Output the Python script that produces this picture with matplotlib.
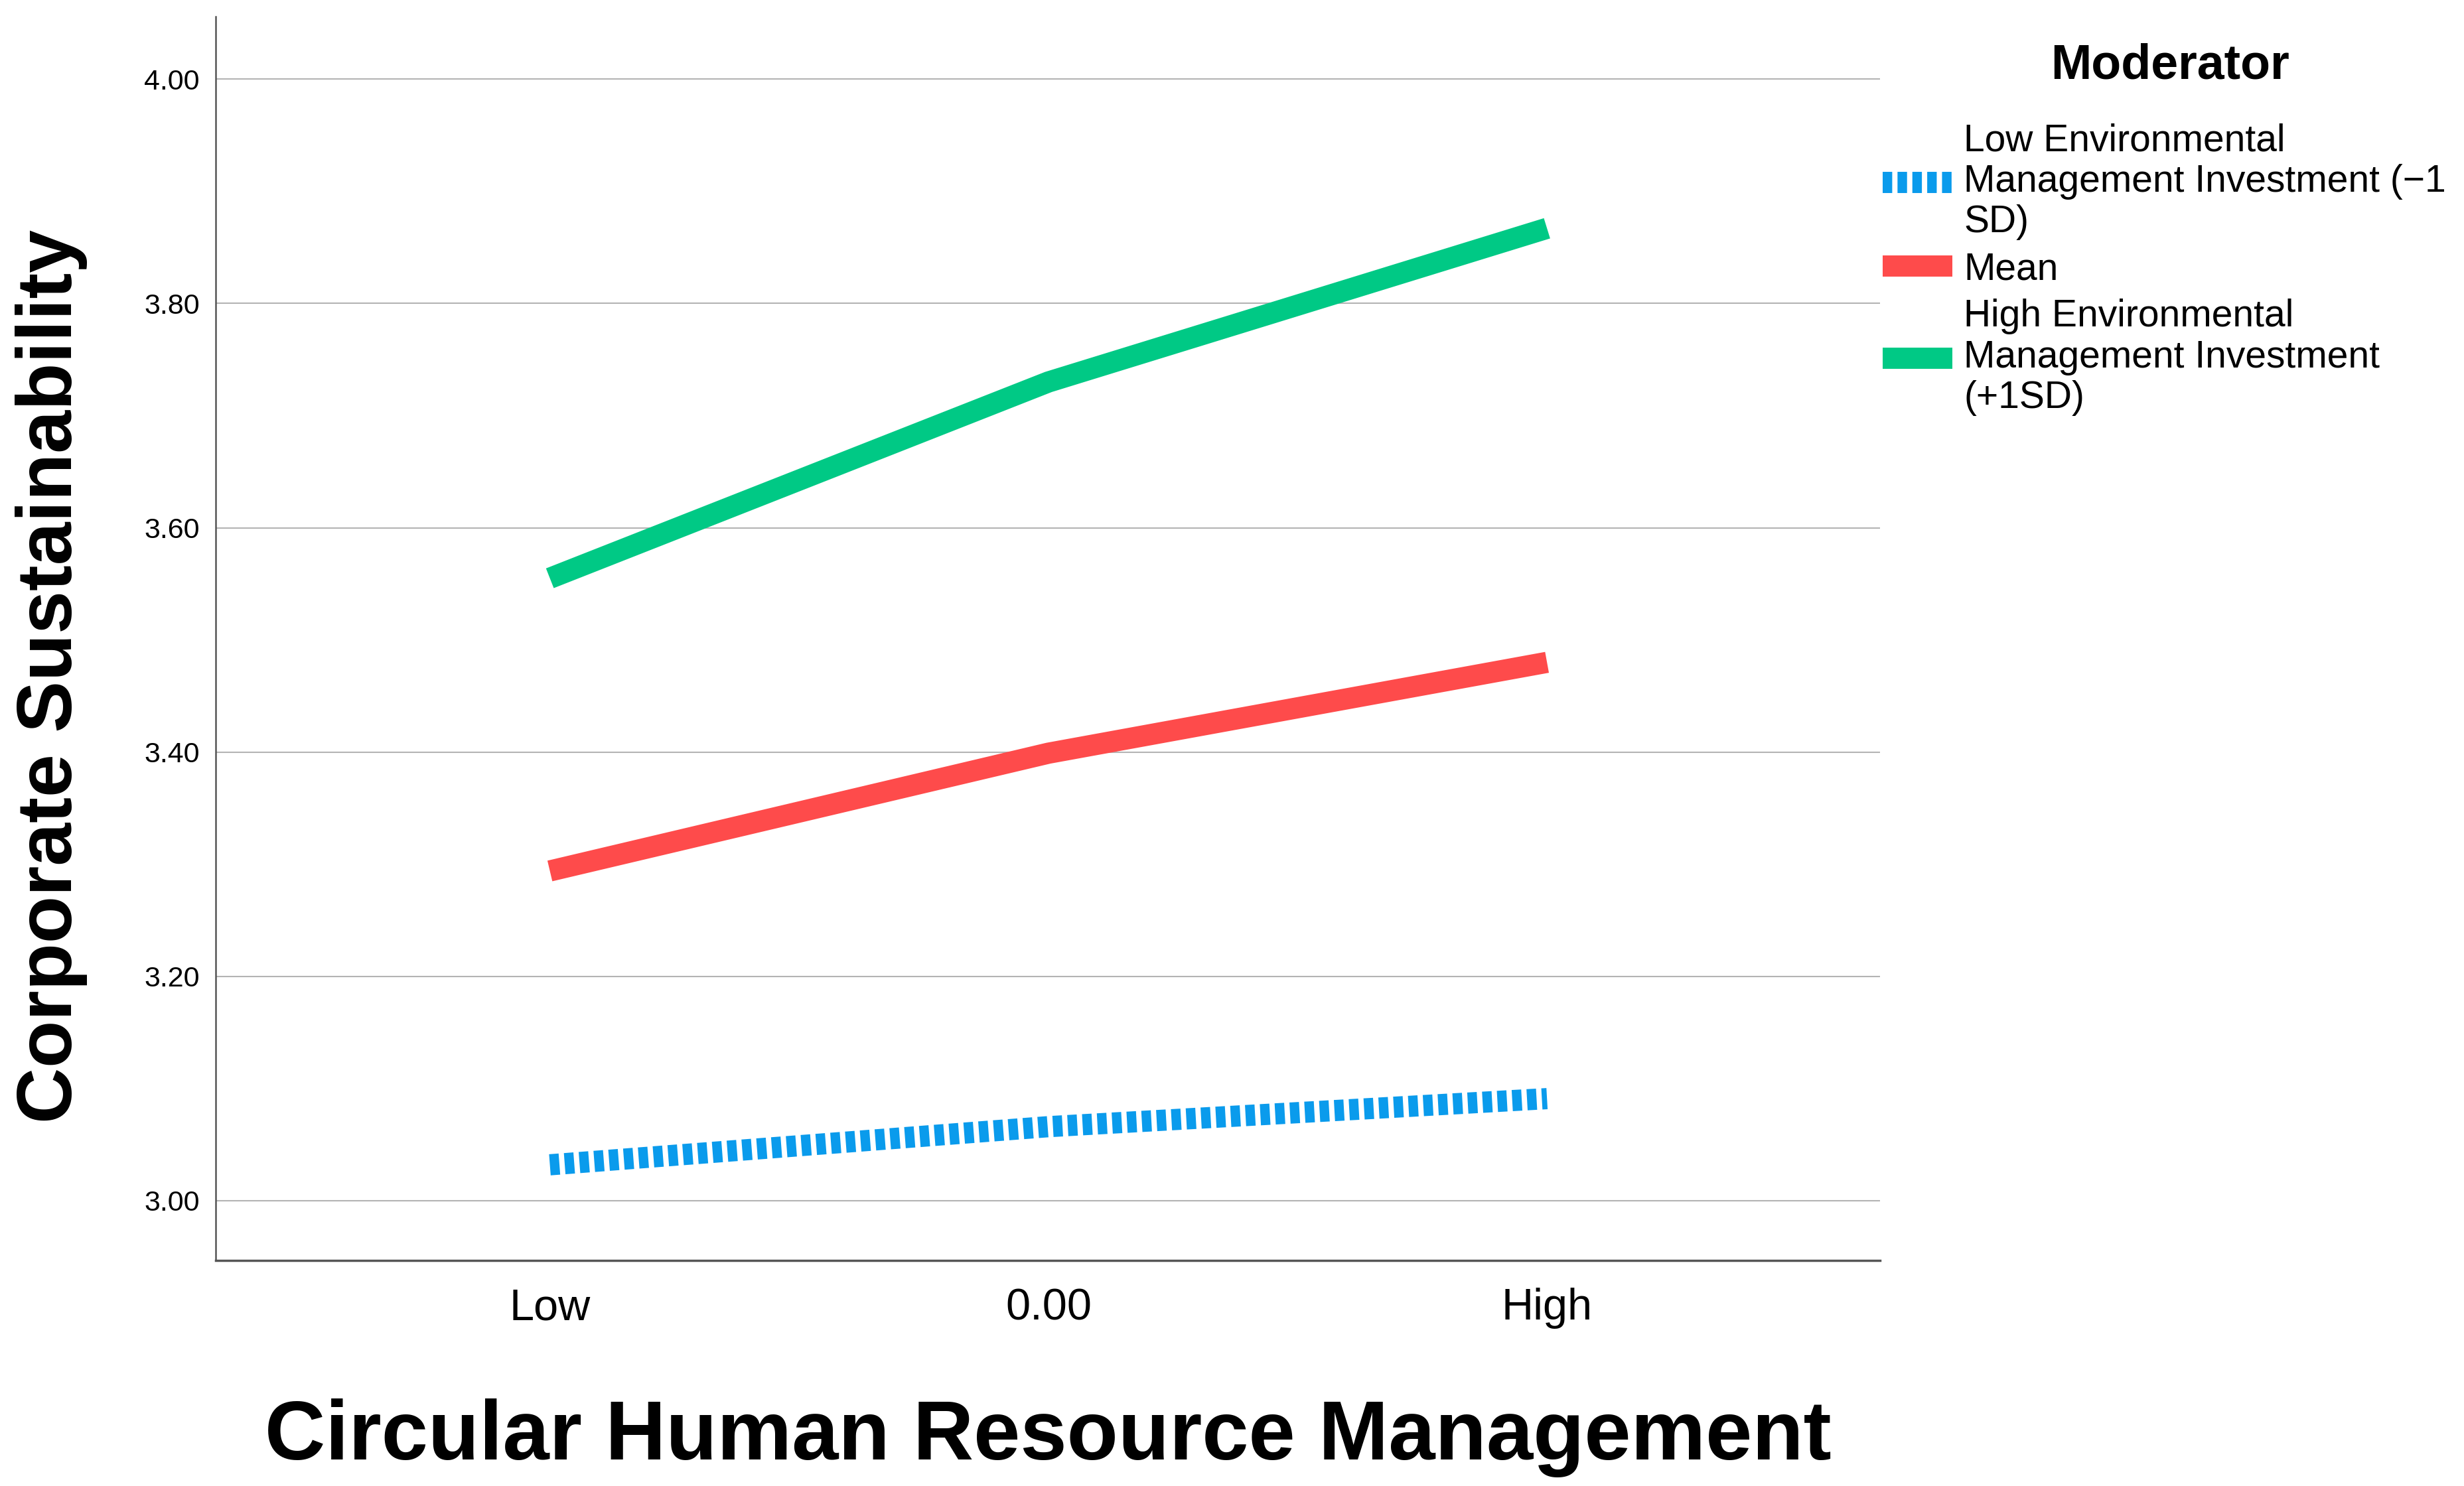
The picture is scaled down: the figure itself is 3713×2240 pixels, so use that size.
import numpy as np
import matplotlib
matplotlib.use('Agg')
import matplotlib.pyplot as plt

plt.rcParams['font.family'] = ['Liberation Sans', 'DejaVu Sans']

# 数据
x_pos = [-1, 0, 1]
x_labels = ['Low', '0.00', 'High']
y_ticks = [3.00, 3.20, 3.40, 3.60, 3.80, 4.00]

low_vals = [3.032, 3.066, 3.091]
mean_vals = [3.294, 3.399, 3.480]
high_vals = [3.555, 3.730, 3.867]

series_names = ['Low Environmental\nManagement Investment (\u22121\nSD)',
                'Mean',
                'High Environmental\nManagement Investment\n(+1SD)']
series_colors = ['#0a9bec', '#fe4b4b', '#00c985']

fig = plt.figure(figsize=(37.13, 22.40), dpi=100)
ax = fig.add_axes([0.0874, 0.152, 0.6756, 0.837])

lw = 23
ax.plot(x_pos, low_vals, color=series_colors[0], lw=lw,
        linestyle=(0, (0.45, 0.25)), dash_capstyle='butt', label=series_names[0])
ax.plot(x_pos, mean_vals, color=series_colors[1], lw=lw,
        solid_capstyle='butt', label=series_names[1])
ax.plot(x_pos, high_vals, color=series_colors[2], lw=lw,
        solid_capstyle='butt', label=series_names[2])

ax.set_xlim(-1.671, 1.668)
ax.set_ylim(2.947, 4.056)
ax.set_xticks(x_pos)
ax.set_xticklabels(x_labels, fontsize=48)
ax.set_yticks(y_ticks)
ax.set_yticklabels([f'{v:.2f}' for v in y_ticks], fontsize=31)
ax.tick_params(axis='x', length=0, pad=30)
ax.tick_params(axis='y', length=0, pad=17)
ax.grid(axis='y', color='#b4b4b4', linewidth=1.5)
ax.set_axisbelow(True)

for s in ['top', 'right']:
    ax.spines[s].set_visible(False)
ax.spines['left'].set_color('#555555')
ax.spines['left'].set_linewidth(1.8)
ax.spines['bottom'].set_color('#555555')
ax.spines['bottom'].set_linewidth(2.5)

fig.text(0.021, 0.545, 'Corporate Sustainability', rotation=90, fontsize=84,
         fontweight='bold', ha='center', va='center')
fig.text(0.4254, 0.018, 'Circular Human Resource Management', fontsize=91,
         fontweight='bold', ha='center', va='baseline')

# 图例标题单独放
fig.text(0.8807, 0.956, 'Moderator', fontsize=53, fontweight='bold',
         ha='center', va='center')
leg = ax.legend(loc='upper left', bbox_to_anchor=(0.764, 0.917),
                bbox_transform=fig.transFigure, frameon=False,
                fontsize=41, handlelength=1.85, handletextpad=0.3,
                labelspacing=0.3, borderpad=0, borderaxespad=0)
for t in leg.get_texts():
    t.set_linespacing(1.17)

fig.savefig('out.png', dpi=100)
